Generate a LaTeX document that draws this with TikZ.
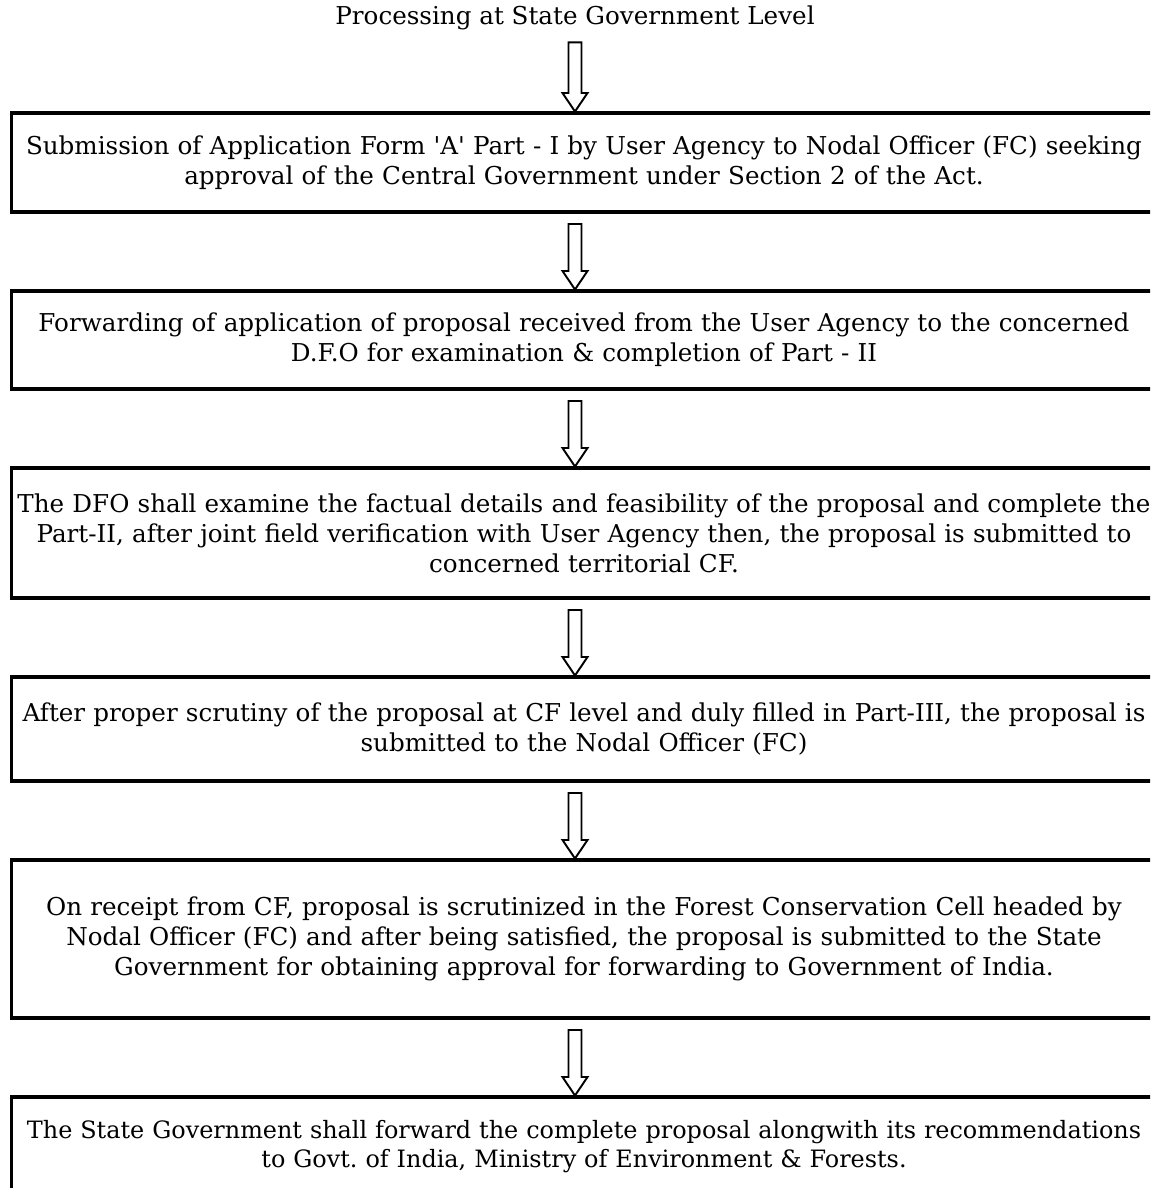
\documentclass[tikz,border=0pt]{standalone}
\usepackage{fontspec}
\setmainfont{DejaVu Serif}
\usetikzlibrary{calc}
\usetikzlibrary{positioning}
\tikzset{
    hollow arrow/.style={draw=black, line width=1.1pt, fill=white, line join=miter}
}
\newcommand{\flowarrow}[2]{%
    \draw[hollow arrow] let \p0=(T), \p1=(#1.south), \p2=(#2.north) in
        (\x0-0.13cm,\y1-0.24cm) -- (\x0+0.13cm,\y1-0.24cm) -- (\x0+0.13cm,\y2+0.40cm)
        -- (\x0+0.25cm,\y2+0.40cm) -- (\x0,\y2+0.03cm) -- (\x0-0.25cm,\y2+0.40cm)
        -- (\x0-0.13cm,\y2+0.40cm) -- cycle;
}
\frenchspacing

\begin{document}
\begin{tikzpicture}[
        every node/.style={font=\fontsize{14}{17}\selectfont, node distance=1.58cm},
        stage/.style={rectangle, draw=black, line width=2.2pt, outer sep=0pt,
            minimum width=22.9cm, text width=22.9cm, align=center, inner sep=0pt},
    ]

    \useasboundingbox (0,0) rectangle (23,-23.76);
    \clip (0,0) rectangle (23,-23.76);

    \node[inner sep=0pt] (T)  at (11.5,-0.36) {Processing at State Government Level};

    \node[stage, anchor=north, minimum height=1.98cm] (B1) at (11.68,-2.26)
        {Submission of Application Form \textquotesingle A\textquotesingle{} Part - I by User Agency to Nodal Officer (FC) seeking\\
         approval of the Central Government under Section 2 of the Act.};
    \node[stage, minimum height=1.96cm] (B2) [below=of B1]
        {Forwarding of application of proposal received from the User Agency to the concerned\\
         D.F.O for examination \& completion of Part - II};
    \node[stage, minimum height=2.6cm]  (B3) [below=of B2]
        {The DFO shall examine the factual details and feasibility of the proposal and complete the\\
         Part-II, after joint field verification with User Agency then, the proposal is submitted to\\
         concerned territorial CF.};
    \node[stage, minimum height=2.08cm] (B4) [below=of B3]
        {After proper scrutiny of the proposal at CF level and duly filled in Part-III, the proposal is\\
         submitted to the Nodal Officer (FC)};
    \node[stage, minimum height=3.16cm] (B5) [below=of B4]
        {On receipt from CF, proposal is scrutinized in the Forest Conservation Cell headed by\\
         Nodal Officer (FC) and after being satisfied, the proposal is submitted to the State\\
         Government for obtaining approval for forwarding to Government of India.};
    \node[stage, minimum height=1.98cm, font=\fontsize{13.6}{17}\selectfont] (B6) [below=of B5]
        {The State Government shall forward the complete proposal alongwith its recommendations\\
         to Govt. of India, Ministry of Environment \& Forests.};

    \flowarrow{T}{B1}
    \flowarrow{B1}{B2}
    \flowarrow{B2}{B3}
    \flowarrow{B3}{B4}
    \flowarrow{B4}{B5}
    \flowarrow{B5}{B6}
\end{tikzpicture}
\end{document}
